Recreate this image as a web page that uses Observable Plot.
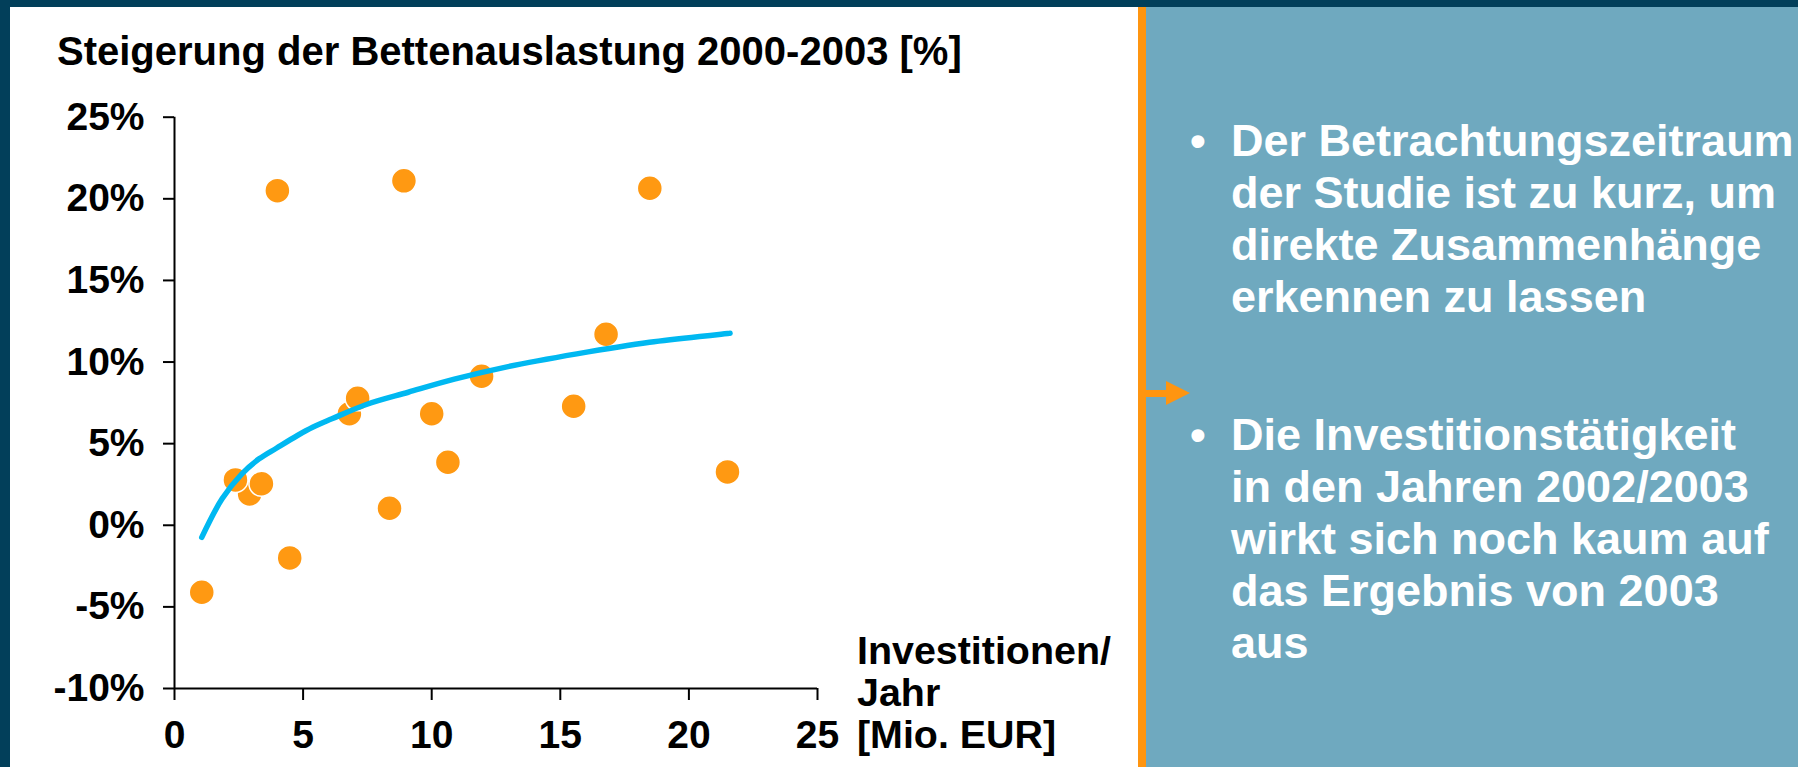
<!DOCTYPE html>
<html>
<head>
<meta charset="utf-8">
<script src="https://cdn.jsdelivr.net/npm/d3@7"></script>
<script src="https://cdn.jsdelivr.net/npm/@observablehq/plot@0.6"></script>
<style>
html, body { margin: 0; padding: 0; }
body { width: 1798px; height: 767px; overflow: hidden; background: #023F5A; position: relative;
       font-family: "Liberation Sans", Arial, sans-serif; font-weight: bold; }
#white { position: absolute; left: 10px; top: 7px; width: 1128px; height: 760px; background: #ffffff; }
#bar { position: absolute; left: 1138px; top: 7px; width: 8px; height: 760px; background: #FF9510; }
#teal { position: absolute; left: 1146px; top: 7px; width: 652px; height: 760px; background: #6FA9BF; }
#chart { position: absolute; left: 0; top: 0; }
#title { position: absolute; left: 57px; top: 31px; font-size: 40px; line-height: 40px; color: #000; white-space: nowrap; }
#xlabel { position: absolute; left: 857px; top: 629px; font-size: 39.4px; line-height: 42px; color: #000; white-space: nowrap; }
.bul { position: absolute; left: 1231px; color: #fff; font-size: 45px; line-height: 52px; white-space: nowrap; }
.bdot { position: absolute; left: -41px; top: 0; }
#arrow { position: absolute; left: 1146px; top: 379px; }
</style>
</head>
<body>
<div id="white"></div>
<div id="bar"></div>
<div id="teal"></div>
<svg id="arrow" width="50" height="28" viewBox="0 0 50 28">
  <rect x="0" y="11" width="22" height="7" fill="#FF9510"></rect>
  <polygon points="20,2 44,14 20,26" fill="#FF9510"></polygon>
</svg>
<div id="chart"></div>
<div id="title"></div>
<div id="xlabel"></div>
<div class="bul" id="b1" style="top:115px"></div>
<div class="bul" id="b2" style="top:409px"></div>
<script>
// ---- data ----
const titleText = "Steigerung der Bettenauslastung 2000-2003 [%]";
const xLabelLines = ["Investitionen/", "Jahr", "[Mio. EUR]"];
const bullet1 = ["Der Betrachtungszeitraum", "der Studie ist zu kurz, um", "direkte Zusammenhänge", "erkennen zu lassen"];
const bullet2 = ["Die Investitionstätigkeit", "in den Jahren 2002/2003", "wirkt sich noch kaum auf", "das Ergebnis von 2003", "aus"];

// scatter points: investments per year [Mio. EUR] vs increase of bed occupancy [%]
const investX     = [1.06, 4.0, 8.92, 18.48, 16.78, 11.94, 6.8, 7.12, 10.0, 15.52, 10.63, 21.5, 2.92, 2.37, 3.38, 8.36, 4.48];
const steigerungY = [-4.1, 20.5, 21.1, 20.65, 11.7, 9.13, 6.83, 7.78, 6.83, 7.29, 3.86, 3.27, 1.92, 2.78, 2.54, 1.04, -2.0];

// trend line
const trendX = [1.06, 1.85, 2.62, 3.29, 3.96, 4.78, 5.37, 6.12, 7.46, 9.09, 10.88, 12.97, 15.64, 18.47, 21.6];
const trendY = [-0.74, 1.62, 3.15, 4.07, 4.72, 5.5, 6.0, 6.52, 7.4, 8.15, 8.95, 9.72, 10.5, 11.21, 11.76];

const xTicks = [0, 5, 10, 15, 20, 25];
const yTicks = [-10, -5, 0, 5, 10, 15, 20, 25];

// ---- build ----
const points = investX.map((x, i) => ({x, y: steigerungY[i]}));
const trend = trendX.map((x, i) => ({x, y: trendY[i]}));

const W = 1138, H = 767;
const chart = Plot.plot({
  width: W,
  height: H,
  marginLeft: 174,
  marginRight: W - 817,
  marginTop: 116.7,
  marginBottom: H - 688,
  style: {
    fontFamily: '"Liberation Sans", Arial, sans-serif',
    fontSize: "39px",
    fontWeight: "bold",
    color: "#000",
    background: "transparent",
    overflow: "visible"
  },
  x: {domain: [0, 25]},
  y: {domain: [-10, 25]},
  marks: [
    Plot.axisX({ticks: xTicks, tickSize: 12, tickPadding: 20, strokeWidth: 2, label: null, fill: "#000"}),
    Plot.axisY({ticks: yTicks, tickSize: 11, tickPadding: 19, strokeWidth: 2, label: null, tickFormat: d => d + "%", fill: "#000"}),
    Plot.ruleX([0], {stroke: "#000", strokeWidth: 2}),
    Plot.ruleY([-10], {stroke: "#000", strokeWidth: 2}),
    Plot.dot(points, {x: "x", y: "y", r: 12.5, fill: "#FF9912", stroke: "#fff", strokeWidth: 1.5}),
    Plot.line(trend, {x: "x", y: "y", stroke: "#00B8F1", strokeWidth: 5.5, curve: "catmull-rom", strokeLinecap: "round"})
  ]
});
document.getElementById("chart").appendChild(chart);

document.getElementById("title").textContent = titleText;
document.getElementById("xlabel").innerHTML = xLabelLines.join("<br>");

function fillBullet(id, lines) {
  const el = document.getElementById(id);
  const dot = document.createElement("span");
  dot.className = "bdot";
  dot.textContent = "•";
  el.appendChild(dot);
  lines.forEach((t, i) => {
    if (i > 0) el.appendChild(document.createElement("br"));
    el.appendChild(document.createTextNode(t));
  });
}
fillBullet("b1", bullet1);
fillBullet("b2", bullet2);
</script>
</body>
</html>
